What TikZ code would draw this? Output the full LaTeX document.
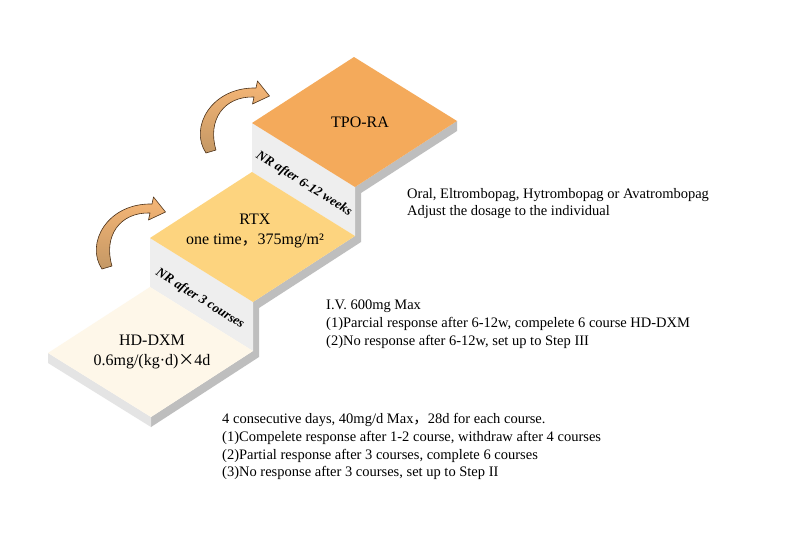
\documentclass[tikz,border=0pt]{standalone}
\usepackage{fontspec}
\setmainfont{Liberation Serif}
\newfontfamily\cjk{Noto Sans CJK SC}

\definecolor{tpocol}{HTML}{F4AA5B}
\definecolor{rtxcol}{HTML}{FDD47F}
\definecolor{hdcol}{HTML}{FEF7E9}
\definecolor{risercol}{HTML}{EEEEEE}
\definecolor{frontcol}{HTML}{E4E4E4}
\definecolor{sidecol}{HTML}{BEBEBE}
\definecolor{arrtop}{HTML}{F6B676}
\definecolor{arrbot}{HTML}{C49865}
\definecolor{arrline}{HTML}{4A3018}

\tikzset{
  steptext/.style={align=center, font=\fontsize{16}{19.5}\selectfont, inner sep=0pt},
  nrtext/.style={font=\fontsize{13.2}{15}\selectfont\bfseries\itshape, inner sep=0pt, rotate=-32},
  notetext/.style={anchor=north west, align=left, inner sep=0pt, font=\fontsize{14.5}{17.8}\selectfont},
  curvarrow/.style={draw=arrline, line width=0.6pt, top color=arrtop, bottom color=arrbot, line join=round}
}

\begin{document}
\begin{tikzpicture}[x=1pt,y=-1pt]
\useasboundingbox[fill=white] (0,0) rectangle (787,533);

% corners of the three treads
\coordinate (h0) at (48,353);
\coordinate (h1) at (150,287);
\coordinate (h2) at (253,351);
\coordinate (h3) at (151,417);
\coordinate (r0) at (150,238);
\coordinate (r1) at (252,172);
\coordinate (r2) at (355,236);
\coordinate (r3) at (253,302);
\coordinate (t0) at (252,123);
\coordinate (t1) at (354,57);
\coordinate (t2) at (457,121);
\coordinate (t3) at (355,187);

% side and front of the slab
\fill[sidecol] (h3) -- (h2) -- (r3) -- (r2) -- (t3) -- (t2) -- (457,131) -- (361,193)
  -- (361,242) -- (259,308) -- (259,357) -- (151,427) -- cycle;
\fill[frontcol] (h0) -- (h3) -- (151,427) -- (48,363) -- cycle;

% risers
\fill[risercol] (r0) -- (r3) -- (h2) -- (h1) -- cycle;
\fill[risercol] (t0) -- (t3) -- (r2) -- (r1) -- cycle;

% treads
\fill[hdcol] (h0) -- (h1) -- (h2) -- (h3) -- cycle;
\fill[rtxcol] (r0) -- (r1) -- (r2) -- (r3) -- cycle;
\fill[tpocol] (t0) -- (t1) -- (t2) -- (t3) -- cycle;

\node[steptext] (tpo) at (360,122) {TPO-RA};
\node[steptext] (rtx) at (255,231) {RTX\\one time{\cjk ，}375mg/m²};
\node[steptext] (hd) at (152,352) {HD-DXM\\0.6mg/(kg·d){\cjk ×}4d};

\node[nrtext] (nr1) at (200,299) {NR after 3 courses};
\node[nrtext] (nr2) at (304,184) {NR after 6-12 weeks};

% curved arrows
\draw[curvarrow] (206,153) .. controls (189,128) and (211,87) .. (256,88)
  -- (257.5,81) -- (269.5,96) -- (252.5,104) -- (254,97)
  .. controls (224,96) and (207,120) .. (216,150) -- cycle;
\begin{scope}[shift={(-104,116)}]
\draw[curvarrow] (206,153) .. controls (189,128) and (211,87) .. (256,88)
  -- (257.5,81) -- (269.5,96) -- (252.5,104) -- (254,97)
  .. controls (224,96) and (207,120) .. (216,150) -- cycle;
\end{scope}

\node[notetext, font=\fontsize{14.5}{17}\selectfont] (note3) at (407,188) {Oral, Eltrombopag, Hytrombopag or Avatrombopag\\Adjust the dosage to the individual};
\node[notetext] (note2) at (326,300) {I.V. 600mg Max\\(1)Parcial response after 6-12w, compelete 6 course HD-DXM\\(2)No response after 6-12w, set up to Step III};
\node[notetext] (note1) at (222,413) {4 consecutive days, 40mg/d Max{\cjk ，}28d for each course.\\(1)Compelete response after 1-2 course, withdraw after 4 courses\\(2)Partial response after 3 courses, complete 6 courses\\(3)No response after 3 courses, set up to Step II};
\end{tikzpicture}
\end{document}
